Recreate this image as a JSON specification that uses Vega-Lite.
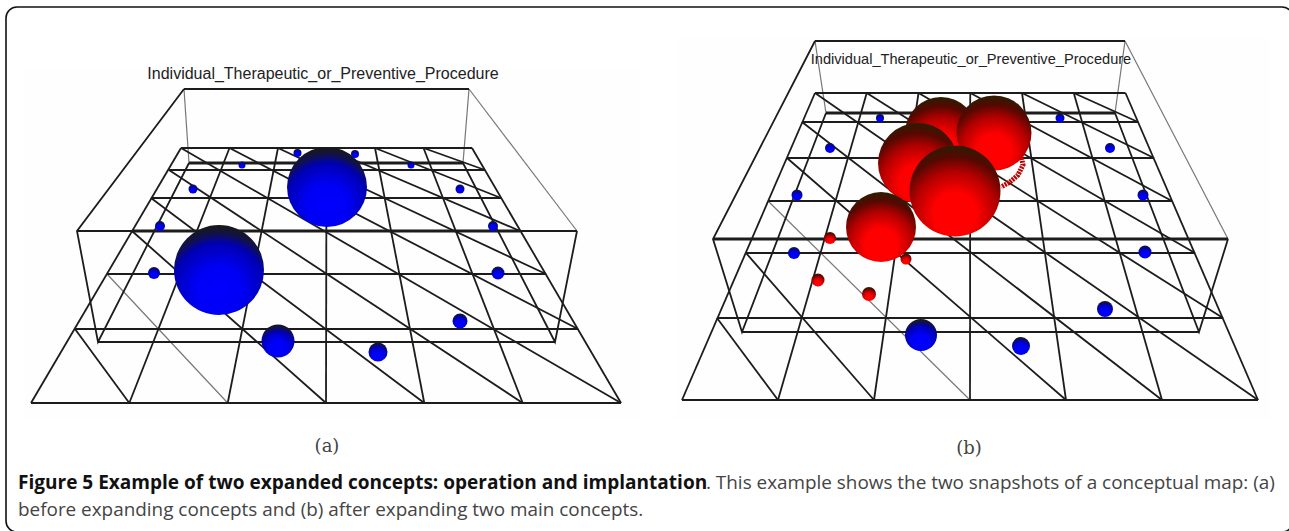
{"$schema":"https://vega.github.io/schema/vega-lite/v6.json","width":1289,"height":531,"padding":0,"autosize":{"type":"none"},"background":"white","config":{"view":{"stroke":null}},
"datasets":{
"frame":[{"x0":6,"x1":1293,"y0":7,"y1":532}],
"panels":[{"x0":25,"x1":640,"y0":68,"y1":420},{"x0":675,"x1":1270,"y0":38,"y1":420}],
"thick":[
{"id":"a-1","o":0,"x":132,"y":231},{"id":"a-1","o":1,"x":520,"y":231},
{"id":"a-2","o":0,"x":189,"y":163},{"id":"a-2","o":1,"x":463,"y":163},
{"id":"b-1","o":0,"x":713,"y":239},{"id":"b-1","o":1,"x":1228,"y":239},
{"id":"b-2","o":0,"x":826,"y":113},{"id":"b-2","o":1,"x":1115,"y":113}
],
"grid":[
{"id":"a-h0","o":0,"x":181,"y":148},{"id":"a-h0","o":1,"x":472,"y":148},
{"id":"a-h1","o":0,"x":169,"y":170},{"id":"a-h1","o":1,"x":485,"y":170},
{"id":"a-h2","o":0,"x":151,"y":198},{"id":"a-h2","o":1,"x":501,"y":198},
{"id":"a-h3","o":0,"x":132,"y":231},{"id":"a-h3","o":1,"x":520,"y":231},
{"id":"a-h4","o":0,"x":107,"y":274},{"id":"a-h4","o":1,"x":546,"y":274},
{"id":"a-h5","o":0,"x":75,"y":329},{"id":"a-h5","o":1,"x":578,"y":329},
{"id":"a-h6","o":0,"x":31,"y":403},{"id":"a-h6","o":1,"x":621,"y":403},
{"id":"a-v0","o":0,"x":181,"y":148},{"id":"a-v0","o":1,"x":31,"y":403},
{"id":"a-v1","o":0,"x":229.5,"y":148},{"id":"a-v1","o":1,"x":129.3,"y":403},
{"id":"a-v2","o":0,"x":278,"y":148},{"id":"a-v2","o":1,"x":227.7,"y":403},
{"id":"a-v3","o":0,"x":326.5,"y":148},{"id":"a-v3","o":1,"x":326,"y":403},
{"id":"a-v4","o":0,"x":375,"y":148},{"id":"a-v4","o":1,"x":424.3,"y":403},
{"id":"a-v5","o":0,"x":423.5,"y":148},{"id":"a-v5","o":1,"x":522.7,"y":403},
{"id":"a-v6","o":0,"x":472,"y":148},{"id":"a-v6","o":1,"x":621,"y":403},
{"id":"a-d0","o":0,"x":181,"y":148},{"id":"a-d0","o":1,"x":621,"y":403},
{"id":"a-d1","o":0,"x":229.5,"y":148},{"id":"a-d1","o":1,"x":578,"y":329},
{"id":"a-d2","o":0,"x":278,"y":148},{"id":"a-d2","o":1,"x":546,"y":274},
{"id":"a-d3","o":0,"x":326.5,"y":148},{"id":"a-d3","o":1,"x":520,"y":231},
{"id":"a-d4","o":0,"x":375,"y":148},{"id":"a-d4","o":1,"x":501,"y":198},
{"id":"a-d5","o":0,"x":423.5,"y":148},{"id":"a-d5","o":1,"x":485,"y":170},
{"id":"a-d6","o":0,"x":169,"y":170},{"id":"a-d6","o":1,"x":522.7,"y":403},
{"id":"a-d7","o":0,"x":151,"y":198},{"id":"a-d7","o":1,"x":424.3,"y":403},
{"id":"a-d8","o":0,"x":132,"y":231},{"id":"a-d8","o":1,"x":326,"y":403},
{"id":"a-d10","o":0,"x":75,"y":329},{"id":"a-d10","o":1,"x":129.3,"y":403},
{"id":"a-b0","o":0,"x":184,"y":89},{"id":"a-b0","o":1,"x":469,"y":89},
{"id":"a-b2","o":0,"x":77,"y":231},{"id":"a-b2","o":1,"x":577,"y":231},
{"id":"a-b3","o":0,"x":98,"y":342},{"id":"a-b3","o":1,"x":555,"y":342},
{"id":"a-b4","o":0,"x":184,"y":89},{"id":"a-b4","o":1,"x":77,"y":231},{"id":"a-b4","o":2,"x":98,"y":342},{"id":"a-b4","o":3,"x":189,"y":163},
{"id":"a-b5","o":0,"x":577,"y":231},{"id":"a-b5","o":1,"x":555,"y":342},{"id":"a-b5","o":2,"x":463,"y":163},
{"id":"b-h0","o":0,"x":815,"y":93},{"id":"b-h0","o":1,"x":1125.5,"y":93},
{"id":"b-h1","o":0,"x":802,"y":122},{"id":"b-h1","o":1,"x":1138,"y":122},
{"id":"b-h2","o":0,"x":787,"y":158},{"id":"b-h2","o":1,"x":1154,"y":158},
{"id":"b-h3","o":0,"x":768,"y":201},{"id":"b-h3","o":1,"x":1172,"y":201},
{"id":"b-h4","o":0,"x":746,"y":253},{"id":"b-h4","o":1,"x":1195,"y":253},
{"id":"b-h5","o":0,"x":717,"y":318},{"id":"b-h5","o":1,"x":1223,"y":318},
{"id":"b-h6","o":0,"x":682,"y":400},{"id":"b-h6","o":1,"x":1258,"y":400},
{"id":"b-v0","o":0,"x":815,"y":93},{"id":"b-v0","o":1,"x":682,"y":400},
{"id":"b-v1","o":0,"x":866.75,"y":93},{"id":"b-v1","o":1,"x":778,"y":400},
{"id":"b-v2","o":0,"x":918.5,"y":93},{"id":"b-v2","o":1,"x":874,"y":400},
{"id":"b-v3","o":0,"x":970.25,"y":93},{"id":"b-v3","o":1,"x":970,"y":400},
{"id":"b-v4","o":0,"x":1022,"y":93},{"id":"b-v4","o":1,"x":1066,"y":400},
{"id":"b-v5","o":0,"x":1073.75,"y":93},{"id":"b-v5","o":1,"x":1162,"y":400},
{"id":"b-v6","o":0,"x":1125.5,"y":93},{"id":"b-v6","o":1,"x":1258,"y":400},
{"id":"b-d0","o":0,"x":815,"y":93},{"id":"b-d0","o":1,"x":1258,"y":400},
{"id":"b-d1","o":0,"x":866.75,"y":93},{"id":"b-d1","o":1,"x":1223,"y":318},
{"id":"b-d2","o":0,"x":918.5,"y":93},{"id":"b-d2","o":1,"x":1195,"y":253},
{"id":"b-d3","o":0,"x":970.25,"y":93},{"id":"b-d3","o":1,"x":1172,"y":201},
{"id":"b-d4","o":0,"x":1022,"y":93},{"id":"b-d4","o":1,"x":1154,"y":158},
{"id":"b-d5","o":0,"x":1073.75,"y":93},{"id":"b-d5","o":1,"x":1138,"y":122},
{"id":"b-d6","o":0,"x":802,"y":122},{"id":"b-d6","o":1,"x":1162,"y":400},
{"id":"b-d7","o":0,"x":787,"y":158},{"id":"b-d7","o":1,"x":1066,"y":400},
{"id":"b-d9","o":0,"x":746,"y":253},{"id":"b-d9","o":1,"x":874,"y":400},
{"id":"b-d10","o":0,"x":717,"y":318},{"id":"b-d10","o":1,"x":778,"y":400},
{"id":"b-b0","o":0,"x":815,"y":41},{"id":"b-b0","o":1,"x":1125,"y":41},
{"id":"b-b3","o":0,"x":742,"y":332},{"id":"b-b3","o":1,"x":1199,"y":332},
{"id":"b-b4","o":0,"x":815,"y":41},{"id":"b-b4","o":1,"x":713,"y":239},{"id":"b-b4","o":2,"x":742,"y":332},{"id":"b-b4","o":3,"x":826,"y":113},
{"id":"b-b5","o":0,"x":1228,"y":239},{"id":"b-b5","o":1,"x":1199,"y":332},{"id":"b-b5","o":2,"x":1115,"y":113}
],
"faint":[
{"id":"a-t0","o":0,"x":184,"y":89},{"id":"a-t0","o":1,"x":189,"y":163},
{"id":"a-t1","o":0,"x":469,"y":89},{"id":"a-t1","o":1,"x":463,"y":163},
{"id":"a-t2","o":0,"x":469,"y":89},{"id":"a-t2","o":1,"x":577,"y":231},
{"id":"a-d9","o":0,"x":107,"y":274},{"id":"a-d9","o":1,"x":227.7,"y":403},
{"id":"b-t0","o":0,"x":815,"y":41},{"id":"b-t0","o":1,"x":826,"y":113},
{"id":"b-t1","o":0,"x":1125,"y":41},{"id":"b-t1","o":1,"x":1115,"y":113},
{"id":"b-t2","o":0,"x":1125,"y":41},{"id":"b-t2","o":1,"x":1228,"y":239},
{"id":"b-d8","o":0,"x":768,"y":201},{"id":"b-d8","o":1,"x":970,"y":400}
],
"ring":[{"id":"r","o":0,"x":1021,"y":155},{"id":"r","o":1,"x":1023,"y":165},{"id":"r","o":2,"x":1018,"y":175},{"id":"r","o":3,"x":1010,"y":182},{"id":"r","o":4,"x":1001,"y":187}],
"blue":[
{"x":297.5,"y":153,"w":8},{"x":355,"y":154,"w":8},{"x":242,"y":165,"w":7},{"x":411,"y":165,"w":7},{"x":193,"y":189,"w":9},{"x":460,"y":189,"w":9},{"x":160,"y":226,"w":10},{"x":493,"y":226,"w":10},{"x":154,"y":273,"w":12},{"x":498,"y":273,"w":13},{"x":460,"y":321,"w":15},{"x":378,"y":352,"w":19},{"x":278,"y":341,"w":33},{"x":327,"y":187,"w":80},{"x":219,"y":270,"w":90},
{"x":880,"y":118,"w":8},{"x":1060,"y":118,"w":9},{"x":830,"y":148,"w":10},{"x":1110,"y":148,"w":10},{"x":797,"y":195,"w":11},{"x":1143,"y":195,"w":11},{"x":794,"y":253,"w":12},{"x":1145,"y":252,"w":13},{"x":1105,"y":309,"w":16},{"x":1021,"y":346,"w":18},{"x":921,"y":335,"w":32}
],
"red":[
{"x":830,"y":238,"w":12},{"x":906,"y":259,"w":11},{"x":818,"y":280,"w":13},{"x":869,"y":294,"w":14}
],
"redBig":[
{"x":941,"y":133,"w":72,"o":1},{"x":994,"y":133,"w":75,"o":2},{"x":918,"y":163,"w":80,"o":3},{"x":955,"y":191,"w":91,"o":4},{"x":881,"y":227,"w":70,"o":5}
],
"sans":[
{"t":"Individual_Therapeutic_or_Preventive_Procedure","x":323,"y":74,"s":"a"},
{"t":"Individual_Therapeutic_or_Preventive_Procedure","x":971,"y":60,"s":"b"}
],
"serif":[{"t":"(a)","x":327,"y":447},{"t":"(b)","x":969,"y":449}],
"capB":[{"t":"Figure 5 Example of two expanded concepts: operation and implantation","x":18,"y":483}],
"capR":[{"t":". This example shows the two snapshots of a conceptual map: (a)","x":706,"y":483},{"t":"before expanding concepts and (b) after expanding two main concepts.","x":18,"y":510}]
},
"layer":[
{"data":{"name":"panels"},"mark":{"type":"rect","fill":"#fefefe"},"encoding":{"x":{"field":"x0","type":"quantitative","scale":{"domain":[0,1289],"nice":false,"zero":false},"axis":null},"x2":{"field":"x1"},"y":{"field":"y0","type":"quantitative","scale":{"domain":[531,0],"nice":false,"zero":false},"axis":null},"y2":{"field":"y1"}}},
{"data":{"name":"frame"},"mark":{"type":"rect","fill":null,"stroke":"#111","strokeWidth":1.6,"cornerRadius":11,"clip":false},"encoding":{"x":{"field":"x0","type":"quantitative"},"x2":{"field":"x1"},"y":{"field":"y0","type":"quantitative"},"y2":{"field":"y1"}}},
{"data":{"name":"faint"},"mark":{"type":"line","stroke":"#777","strokeWidth":1.2},"encoding":{"x":{"field":"x","type":"quantitative"},"y":{"field":"y","type":"quantitative"},"detail":{"field":"id"},"order":{"field":"o"}}},
{"data":{"name":"grid"},"mark":{"type":"line","stroke":"#1c1c1c","strokeWidth":1.8},"encoding":{"x":{"field":"x","type":"quantitative"},"y":{"field":"y","type":"quantitative"},"detail":{"field":"id"},"order":{"field":"o"}}},
{"data":{"name":"thick"},"mark":{"type":"line","stroke":"#1c1c1c","strokeWidth":3},"encoding":{"x":{"field":"x","type":"quantitative"},"y":{"field":"y","type":"quantitative"},"detail":{"field":"id"},"order":{"field":"o"}}},
{"data":{"name":"ring"},"mark":{"type":"line","stroke":"#c00000","strokeWidth":5,"strokeDash":[2,1]},"encoding":{"x":{"field":"x","type":"quantitative"},"y":{"field":"y","type":"quantitative"},"detail":{"field":"id"},"order":{"field":"o"}}},
{"data":{"name":"blue"},"mark":{"type":"point","shape":"circle","filled":true,"opacity":1,"color":{"gradient":"radial","x1":0.5,"y1":0.72,"r1":0,"x2":0.5,"y2":0.72,"r2":0.75,"stops":[{"offset":0,"color":"#0000ff"},{"offset":0.35,"color":"#0000f5"},{"offset":0.7,"color":"#0000b0"},{"offset":0.82,"color":"#101050"},{"offset":1,"color":"#1c1c00"}]}},"encoding":{"x":{"field":"x","type":"quantitative"},"y":{"field":"y","type":"quantitative"},"size":{"field":"w","type":"quantitative","legend":null,"scale":{"type":"pow","exponent":2,"domain":[0,100],"range":[0,10000]}}}},
{"data":{"name":"red"},"mark":{"type":"point","shape":"circle","filled":true,"opacity":1,"color":{"gradient":"radial","x1":0.5,"y1":0.75,"r1":0,"x2":0.5,"y2":0.75,"r2":0.78,"stops":[{"offset":0,"color":"#ff0000"},{"offset":0.3,"color":"#ff0000"},{"offset":0.6,"color":"#b00000"},{"offset":0.8,"color":"#550800"},{"offset":1,"color":"#222200"}]}},"encoding":{"x":{"field":"x","type":"quantitative"},"y":{"field":"y","type":"quantitative"},"size":{"field":"w","type":"quantitative","legend":null,"scale":{"type":"pow","exponent":2,"domain":[0,100],"range":[0,10000]}}}},
{"data":{"name":"redBig"},"mark":{"type":"point","shape":"circle","filled":true,"opacity":1,"color":{"gradient":"radial","x1":0.5,"y1":0.75,"r1":0,"x2":0.5,"y2":0.75,"r2":0.78,"stops":[{"offset":0,"color":"#ff0000"},{"offset":0.3,"color":"#ff0000"},{"offset":0.6,"color":"#b00000"},{"offset":0.8,"color":"#550800"},{"offset":1,"color":"#222200"}]}},"encoding":{"x":{"field":"x","type":"quantitative"},"y":{"field":"y","type":"quantitative"},"order":{"field":"o"},"size":{"field":"w","type":"quantitative","legend":null,"scale":{"type":"pow","exponent":2,"domain":[0,100],"range":[0,10000]}}}},
{"data":{"name":"sans"},"transform":[{"filter":"datum.s==='a'"}],"mark":{"type":"text","font":"Liberation Sans","fontSize":16,"fill":"#222","align":"center","baseline":"middle"},"encoding":{"x":{"field":"x","type":"quantitative"},"y":{"field":"y","type":"quantitative"},"text":{"field":"t"}}},
{"data":{"name":"sans"},"transform":[{"filter":"datum.s==='b'"}],"mark":{"type":"text","font":"Liberation Sans","fontSize":14.6,"fill":"#222","align":"center","baseline":"middle"},"encoding":{"x":{"field":"x","type":"quantitative"},"y":{"field":"y","type":"quantitative"},"text":{"field":"t"}}},
{"data":{"name":"serif"},"mark":{"type":"text","font":"DejaVu Serif","fontSize":18,"fill":"#444","align":"center","baseline":"middle"},"encoding":{"x":{"field":"x","type":"quantitative"},"y":{"field":"y","type":"quantitative"},"text":{"field":"t"}}},
{"data":{"name":"capB"},"mark":{"type":"text","font":"Open Sans","fontWeight":"bold","fontSize":19.05,"fill":"#111","align":"left","baseline":"middle"},"encoding":{"x":{"field":"x","type":"quantitative"},"y":{"field":"y","type":"quantitative"},"text":{"field":"t"}}},
{"data":{"name":"capR"},"mark":{"type":"text","font":"Open Sans","fontSize":18.9,"fill":"#444","align":"left","baseline":"middle"},"encoding":{"x":{"field":"x","type":"quantitative"},"y":{"field":"y","type":"quantitative"},"text":{"field":"t"}}}
]}
